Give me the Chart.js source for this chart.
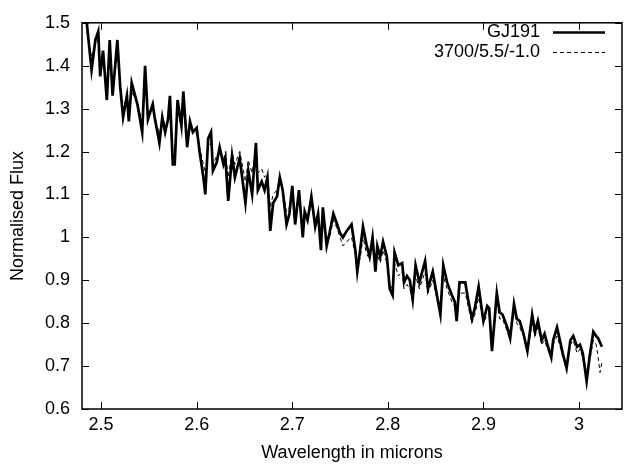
<!DOCTYPE html>
<html>
<head>
<meta charset="utf-8">
<script src="https://cdn.jsdelivr.net/npm/chart.js@4/dist/chart.umd.min.js"></script>
<style>
  body { margin: 0; background: #fff; }
  #wrap { width: 627px; height: 466px; }
</style>
</head>
<body>
<div id="wrap"><canvas id="myChart"></canvas></div>
<script>
// wavelength in microns
const wavelength = [
  2.485, 2.490, 2.494, 2.497, 2.499, 2.502, 2.506, 2.509, 2.512, 2.517,
  2.520, 2.523, 2.527, 2.529, 2.532, 2.538, 2.543, 2.546, 2.549, 2.554,
  2.556, 2.561, 2.564, 2.567, 2.570, 2.572, 2.575, 2.577, 2.580, 2.584,
  2.586, 2.590, 2.593, 2.596, 2.600, 2.603, 2.607, 2.609, 2.612, 2.615,
  2.617, 2.621, 2.624, 2.628, 2.630, 2.633, 2.637, 2.640, 2.645, 2.651,
  2.654, 2.658, 2.662, 2.664, 2.668, 2.671, 2.674, 2.677, 2.680, 2.684,
  2.687, 2.690, 2.694, 2.697, 2.700, 2.703, 2.707, 2.711, 2.713, 2.716,
  2.720, 2.724, 2.727, 2.730, 2.732, 2.736, 2.739, 2.743, 2.747, 2.750,
  2.753, 2.757, 2.762, 2.766, 2.768, 2.771, 2.774, 2.778, 2.781, 2.784,
  2.787, 2.789, 2.792, 2.795, 2.799, 2.802, 2.805, 2.807, 2.811, 2.815,
  2.817, 2.820, 2.823, 2.826, 2.829, 2.833, 2.839, 2.842, 2.847, 2.851,
  2.855, 2.858, 2.862, 2.867, 2.870, 2.872, 2.875, 2.881, 2.884, 2.888,
  2.891, 2.895, 2.900, 2.904, 2.906, 2.909, 2.914, 2.917, 2.920, 2.925,
  2.928, 2.932, 2.935, 2.938, 2.942, 2.946, 2.951, 2.954, 2.957, 2.961,
  2.964, 2.967, 2.971, 2.973, 2.977, 2.981, 2.983, 2.987, 2.991, 2.994,
  2.998, 3.001, 3.004, 3.008, 3.011, 3.015, 3.018, 3.020, 3.022, 3.024
]

// observed spectrum
const gj191 = [
  1.50, 1.39, 1.46, 1.48, 1.375, 1.435, 1.32, 1.46, 1.33, 1.46,
  1.35, 1.28, 1.33, 1.27, 1.36, 1.31, 1.245, 1.40, 1.275, 1.31,
  1.28, 1.22, 1.28, 1.245, 1.275, 1.33, 1.17, 1.17, 1.32, 1.26,
  1.34, 1.21, 1.27, 1.245, 1.255, 1.20, 1.14, 1.10, 1.23, 1.245,
  1.155, 1.175, 1.21, 1.17, 1.185, 1.085, 1.19, 1.14, 1.185, 1.08,
  1.155, 1.10, 1.22, 1.11, 1.13, 1.11, 1.14, 1.015, 1.08, 1.095,
  1.14, 1.11, 1.03, 1.055, 1.12, 1.03, 1.11, 1.00, 1.06, 1.04,
  1.095, 1.025, 1.055, 0.97, 1.07, 0.98, 1.01, 1.055, 1.03, 1.01,
  1.00, 1.015, 1.03, 0.97, 0.92, 0.97, 1.025, 0.98, 0.955, 1.00,
  0.92, 0.98, 0.955, 0.99, 0.955, 0.88, 0.865, 0.965, 0.935, 0.94,
  0.895, 0.91, 0.90, 0.855, 0.935, 0.895, 0.945, 0.88, 0.92, 0.87,
  0.82, 0.935, 0.895, 0.865, 0.85, 0.805, 0.895, 0.895, 0.855, 0.81,
  0.835, 0.885, 0.805, 0.84, 0.835, 0.735, 0.87, 0.825, 0.82, 0.79,
  0.765, 0.845, 0.81, 0.805, 0.775, 0.735, 0.82, 0.78, 0.805, 0.76,
  0.775, 0.75, 0.72, 0.76, 0.79, 0.75, 0.73, 0.695, 0.76, 0.77,
  0.745, 0.75, 0.73, 0.665, 0.72, 0.78, 0.77, 0.765, 0.755, 0.745
]

// model 3700/5.5/-1.0
const model = [
  1.48, 1.42, 1.45, 1.46, 1.40, 1.42, 1.34, 1.42, 1.35, 1.42,
  1.36, 1.30, 1.33, 1.29, 1.34, 1.31, 1.27, 1.36, 1.29, 1.31,
  1.28, 1.24, 1.28, 1.26, 1.27, 1.30, 1.20, 1.21, 1.29, 1.26,
  1.30, 1.23, 1.26, 1.25, 1.24, 1.21, 1.17, 1.15, 1.21, 1.22,
  1.17, 1.19, 1.20, 1.18, 1.20, 1.14, 1.20, 1.17, 1.20, 1.13,
  1.18, 1.15, 1.21, 1.15, 1.16, 1.14, 1.15, 1.07, 1.10, 1.11,
  1.14, 1.11, 1.06, 1.07, 1.11, 1.05, 1.09, 1.02, 1.06, 1.04,
  1.08, 1.03, 1.05, 0.99, 1.05, 0.99, 1.00, 1.04, 1.02, 1.00,
  0.98, 0.99, 1.00, 0.96, 0.94, 0.95, 1.00, 0.96, 0.95, 0.98,
  0.93, 0.96, 0.94, 0.97, 0.94, 0.89, 0.88, 0.94, 0.91, 0.92,
  0.88, 0.89, 0.88, 0.85, 0.91, 0.88, 0.92, 0.87, 0.90, 0.86,
  0.82, 0.91, 0.88, 0.85, 0.84, 0.81, 0.87, 0.87, 0.84, 0.80,
  0.82, 0.86, 0.80, 0.82, 0.82, 0.74, 0.85, 0.81, 0.81, 0.78,
  0.76, 0.83, 0.80, 0.79, 0.77, 0.73, 0.80, 0.77, 0.79, 0.75,
  0.76, 0.74, 0.72, 0.75, 0.77, 0.74, 0.72, 0.70, 0.75, 0.76,
  0.73, 0.74, 0.72, 0.67, 0.71, 0.76, 0.75, 0.72, 0.685, 0.71
]

const xTicks = [2.5, 2.6, 2.7, 2.8, 2.9, 3.0]
const yTicks = [0.6, 0.7, 0.8, 0.9, 1.0, 1.1, 1.2, 1.3, 1.4, 1.5]

const FONT = 'Liberation Sans, Arial, Helvetica, sans-serif'
const FSIZE = 18

function toPoints(ys) {
  return wavelength.map((w, i) => ({ x: w, y: ys[i] }))
}

function fmt(v) {
  return String(+v.toFixed(2))
}

// gnuplot style frame: border plus inward ticks on all four sides
const framePlugin = {
  id: 'frame',
  afterDraw(chart) {
    const { ctx, chartArea: a, scales } = chart
    const len = 7
    ctx.save()
    ctx.strokeStyle = '#000'
    ctx.lineWidth = 1.5
    ctx.strokeRect(a.left, a.top, a.right - a.left, a.bottom - a.top)
    ctx.lineWidth = 1
    ctx.beginPath()
    xTicks.forEach(t => {
      const px = Math.round(scales.x.getPixelForValue(t)) + 0.5
      ctx.moveTo(px, a.bottom); ctx.lineTo(px, a.bottom - len)
      ctx.moveTo(px, a.top); ctx.lineTo(px, a.top + len)
    })
    yTicks.forEach(t => {
      const py = Math.round(scales.y.getPixelForValue(t)) + 0.5
      ctx.moveTo(a.left, py); ctx.lineTo(a.left + len, py)
      ctx.moveTo(a.right, py); ctx.lineTo(a.right - len, py)
    })
    ctx.stroke()
    ctx.restore()
  }
}

// legend drawn like gnuplot: label right aligned, sample line to the right
const keyPlugin = {
  id: 'key',
  afterDraw(chart) {
    const ctx = chart.ctx
    const textRight = 540
    const lineL = 553, lineR = 605
    ctx.save()
    ctx.font = FSIZE + 'px ' + FONT
    ctx.fillStyle = '#000'
    ctx.textAlign = 'right'
    ctx.textBaseline = 'middle'
    chart.data.datasets.forEach((ds, i) => {
      const y = 32 + i * 20
      ctx.fillText(ds.label, textRight, y)
      ctx.beginPath()
      ctx.lineWidth = ds.borderWidth
      ctx.setLineDash(ds.borderDash || [])
      ctx.moveTo(lineL, y + 0.5)
      ctx.lineTo(lineR, y + 0.5)
      ctx.stroke()
    })
    ctx.restore()
  }
}

const chart = new Chart(document.getElementById('myChart'), {
  type: 'line',
  data: {
    datasets: [
      {
        label: 'GJ191',
        data: toPoints(gj191),
        borderColor: '#000',
        borderWidth: 2.7,
        pointRadius: 0,
        tension: 0
      },
      {
        label: '3700/5.5/-1.0',
        data: toPoints(model),
        borderColor: '#000',
        borderWidth: 1,
        borderDash: [4, 3],
        pointRadius: 0,
        tension: 0
      }
    ]
  },
  options: {
    responsive: true,
    maintainAspectRatio: false,
    animation: false,
    layout: { padding: { top: 15, right: 5, left: 0, bottom: 0 } },
    plugins: {
      legend: { display: false },
      tooltip: { enabled: false }
    },
    scales: {
      x: {
        type: 'linear',
        min: 2.48,
        max: 3.045,
        grid: { display: false, drawTicks: false },
        border: { display: false },
        afterFit: s => { s.height = 57 },
        afterBuildTicks: s => { s.ticks = xTicks.map(v => ({ value: v })) },
        ticks: {
          padding: 5,
          color: '#000',
          font: { family: FONT, size: FSIZE },
          callback: v => fmt(v)
        },
        title: {
          display: true,
          text: 'Wavelength in microns',
          color: '#000',
          font: { family: FONT, size: FSIZE },
          padding: { top: 0, bottom: 2 }
        }
      },
      y: {
        min: 0.6,
        max: 1.5,
        grid: { display: false, drawTicks: false },
        border: { display: false },
        afterFit: s => { s.width = 82 },
        afterBuildTicks: s => { s.ticks = yTicks.map(v => ({ value: v })) },
        ticks: {
          padding: 12,
          color: '#000',
          font: { family: FONT, size: FSIZE },
          callback: v => fmt(v)
        },
        title: {
          display: true,
          text: 'Normalised Flux',
          color: '#000',
          font: { family: FONT, size: FSIZE },
          padding: { top: 7, bottom: 0 }
        }
      }
    }
  },
  plugins: [framePlugin, keyPlugin]
})
</script>
</body>
</html>
